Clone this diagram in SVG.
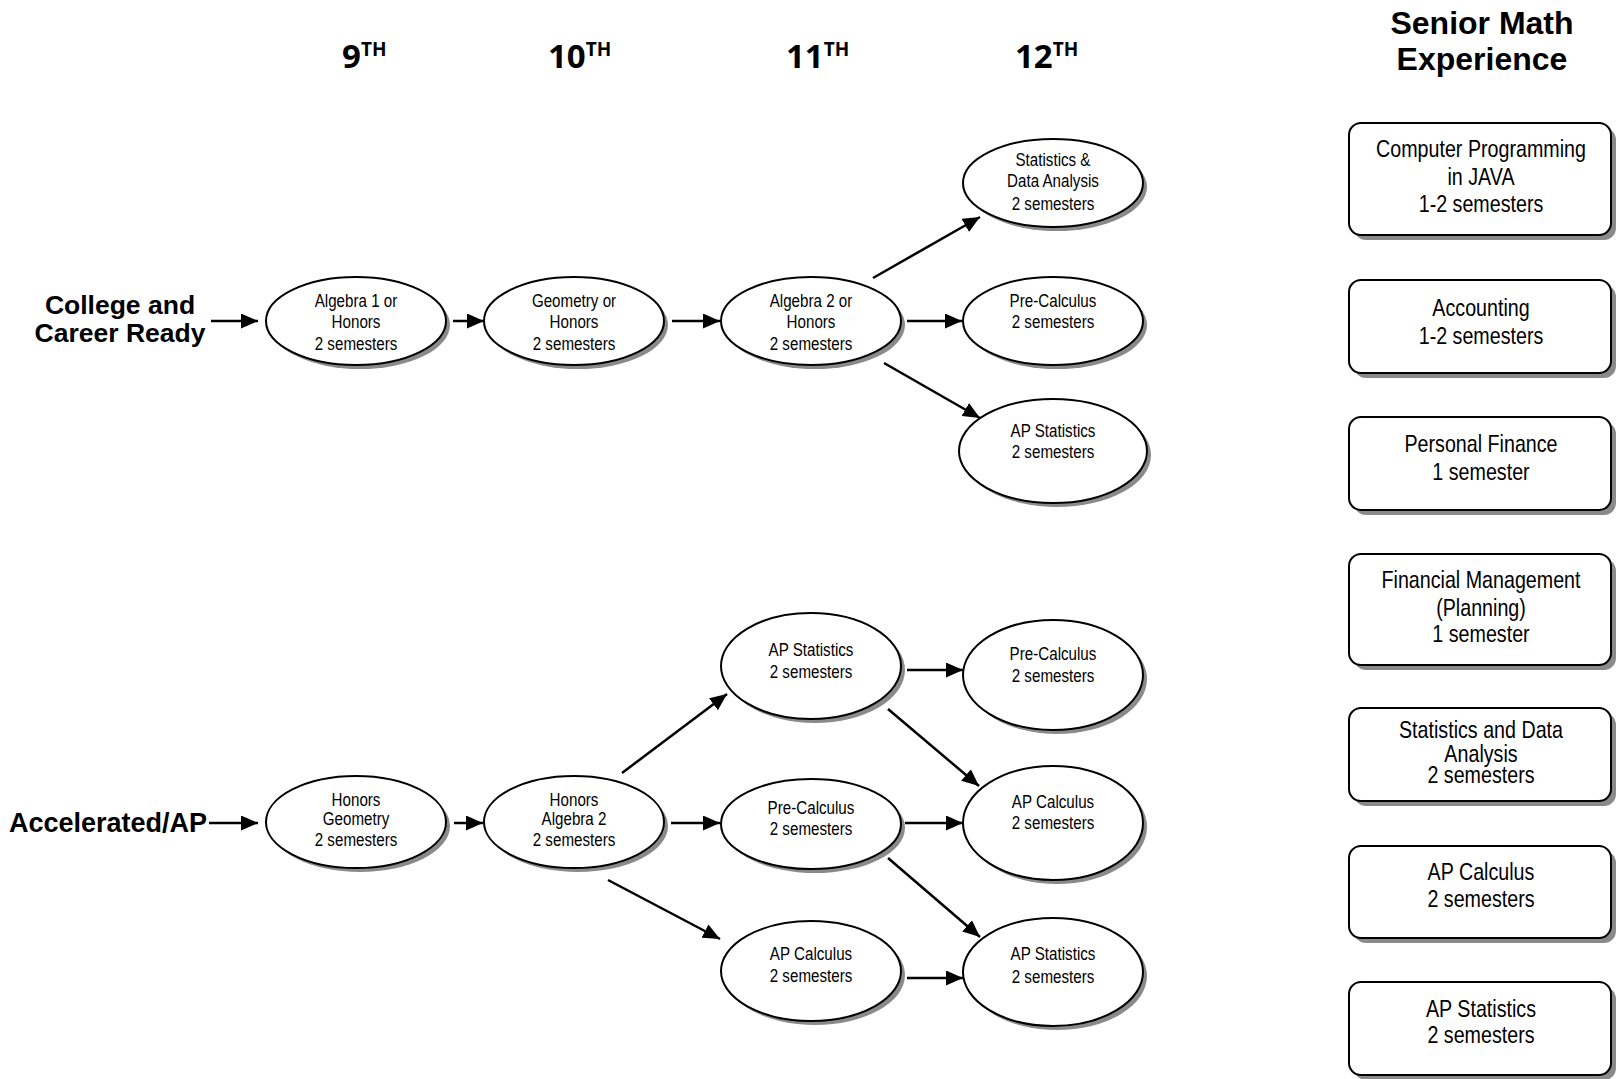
<svg xmlns="http://www.w3.org/2000/svg" width="1617" height="1079" viewBox="0 0 1617 1079">
<defs>
<marker id="ah" markerUnits="userSpaceOnUse" markerWidth="19" markerHeight="15" refX="17" refY="7.5" orient="auto">
<path d="M0,0 L17,7.5 L0,15 Z" fill="#000"/>
</marker>
</defs>
<style>
.sh{fill:#8a8a8a;stroke:none}
.el{fill:#fff;stroke:#000;stroke-width:2}
.bx{fill:#fff;stroke:#000;stroke-width:2}
.t{font-family:"Liberation Sans",Arial,sans-serif;font-size:18.5px;text-anchor:middle;fill:#000}
.bt{font-family:"Liberation Sans",Arial,sans-serif;font-size:24px;text-anchor:middle;fill:#000}
.hd{font-family:"Open Sans","Liberation Sans",sans-serif;font-weight:700;font-size:33px;fill:#000}
.sup{font-size:19px}
.lb{font-family:"Liberation Sans",Arial,sans-serif;font-weight:700;font-size:26.5px;fill:#000}
.cn{stroke:#000;stroke-width:2.5;fill:none;marker-end:url(#ah)}
</style>
<rect width="1617" height="1079" fill="#fff"/>

<g id="headers">
<text class="hd" x="342" y="68">9<tspan class="sup" dy="-12">TH</tspan></text>
<text class="hd" x="548" y="68">10<tspan class="sup" dy="-12">TH</tspan></text>
<text class="hd" x="786" y="68">11<tspan class="sup" dy="-12">TH</tspan></text>
<text class="hd" x="1015" y="68">12<tspan class="sup" dy="-12">TH</tspan></text>
<text class="lb" x="1482" y="34" text-anchor="middle" style="font-size:32px">Senior Math</text>
<text class="lb" x="1482" y="70" text-anchor="middle" style="font-size:32px">Experience</text>
</g>

<g id="label-ccr">
<text class="lb" x="120" y="314" text-anchor="middle">College and</text>
<text class="lb" x="120" y="342" text-anchor="middle">Career Ready</text>
</g>
<g id="label-ap">
<text class="lb" x="207" y="832" text-anchor="end" style="font-size:27px">Accelerated/AP</text>
</g>

<g id="connectors">
<path class="cn" d="M211,321 L258,321"/>
<path class="cn" d="M453,321 L484,321"/>
<path class="cn" d="M672,321 L720,321"/>
<path class="cn" d="M907,321 L962,321"/>
<path class="cn" d="M873,278 L980,217"/>
<path class="cn" d="M884,363 L980,418"/>
<path class="cn" d="M209,823 L258,823"/>
<path class="cn" d="M454,823 L483,823"/>
<path class="cn" d="M671,823 L720,823"/>
<path class="cn" d="M622,773 L727,694"/>
<path class="cn" d="M608,880 L720,939"/>
<path class="cn" d="M907,670 L963,670"/>
<path class="cn" d="M888,709 L979,786"/>
<path class="cn" d="M905,823 L963,823"/>
<path class="cn" d="M888,858 L980,937"/>
<path class="cn" d="M907,978 L963,978"/>
</g>

<g id="n-alg1">
<ellipse class="sh" cx="360" cy="325" rx="90" ry="44"/>
<ellipse class="el" cx="356" cy="321" rx="90" ry="44"/>
<g transform="translate(356 0) scale(0.82 1)">
<text class="t" x="0" y="307.5">Algebra 1 or</text>
<text class="t" x="0" y="328">Honors</text>
<text class="t" x="0" y="350">2 semesters</text>
</g>
</g>
<g id="n-geo">
<ellipse class="sh" cx="578" cy="325" rx="90" ry="44"/>
<ellipse class="el" cx="574" cy="321" rx="90" ry="44"/>
<g transform="translate(574 0) scale(0.82 1)">
<text class="t" x="0" y="307.5">Geometry or</text>
<text class="t" x="0" y="328">Honors</text>
<text class="t" x="0" y="350">2 semesters</text>
</g>
</g>
<g id="n-alg2">
<ellipse class="sh" cx="815" cy="325" rx="90" ry="44"/>
<ellipse class="el" cx="811" cy="321" rx="90" ry="44"/>
<g transform="translate(811 0) scale(0.82 1)">
<text class="t" x="0" y="307.5">Algebra 2 or</text>
<text class="t" x="0" y="328">Honors</text>
<text class="t" x="0" y="350">2 semesters</text>
</g>
</g>
<g id="n-sda">
<ellipse class="sh" cx="1057" cy="187" rx="90" ry="44"/>
<ellipse class="el" cx="1053" cy="183" rx="90" ry="44"/>
<g transform="translate(1053 0) scale(0.82 1)">
<text class="t" x="0" y="166">Statistics &amp;</text>
<text class="t" x="0" y="187">Data Analysis</text>
<text class="t" x="0" y="210">2 semesters</text>
</g>
</g>
<g id="n-pc1">
<ellipse class="sh" cx="1057" cy="325" rx="90" ry="44"/>
<ellipse class="el" cx="1053" cy="321" rx="90" ry="44"/>
<g transform="translate(1053 0) scale(0.82 1)">
<text class="t" x="0" y="307.5">Pre-Calculus</text>
<text class="t" x="0" y="328">2 semesters</text>
</g>
</g>
<g id="n-aps1">
<ellipse class="sh" cx="1057" cy="455" rx="94" ry="52"/>
<ellipse class="el" cx="1053" cy="451" rx="94" ry="52"/>
<g transform="translate(1053 0) scale(0.82 1)">
<text class="t" x="0" y="437.5">AP Statistics</text>
<text class="t" x="0" y="458">2 semesters</text>
</g>
</g>

<g id="n-hgeo">
<ellipse class="sh" cx="360" cy="826" rx="90" ry="46"/>
<ellipse class="el" cx="356" cy="822" rx="90" ry="46"/>
<g transform="translate(356 0) scale(0.82 1)">
<text class="t" x="0" y="806.5">Honors</text>
<text class="t" x="0" y="825">Geometry</text>
<text class="t" x="0" y="846">2 semesters</text>
</g>
</g>
<g id="n-halg2">
<ellipse class="sh" cx="578" cy="826" rx="90" ry="46"/>
<ellipse class="el" cx="574" cy="822" rx="90" ry="46"/>
<g transform="translate(574 0) scale(0.82 1)">
<text class="t" x="0" y="806.5">Honors</text>
<text class="t" x="0" y="825">Algebra 2</text>
<text class="t" x="0" y="846">2 semesters</text>
</g>
</g>
<g id="n-aps11">
<ellipse class="sh" cx="815" cy="670" rx="90" ry="53"/>
<ellipse class="el" cx="811" cy="666" rx="90" ry="53"/>
<g transform="translate(811 0) scale(0.82 1)">
<text class="t" x="0" y="656">AP Statistics</text>
<text class="t" x="0" y="678">2 semesters</text>
</g>
</g>
<g id="n-pc11">
<ellipse class="sh" cx="815" cy="828" rx="90" ry="45"/>
<ellipse class="el" cx="811" cy="824" rx="90" ry="45"/>
<g transform="translate(811 0) scale(0.82 1)">
<text class="t" x="0" y="814">Pre-Calculus</text>
<text class="t" x="0" y="835.5">2 semesters</text>
</g>
</g>
<g id="n-apc11">
<ellipse class="sh" cx="815" cy="975" rx="90" ry="50"/>
<ellipse class="el" cx="811" cy="971" rx="90" ry="50"/>
<g transform="translate(811 0) scale(0.82 1)">
<text class="t" x="0" y="960.5">AP Calculus</text>
<text class="t" x="0" y="982">2 semesters</text>
</g>
</g>
<g id="n-pc12">
<ellipse class="sh" cx="1057" cy="679" rx="90" ry="55"/>
<ellipse class="el" cx="1053" cy="675" rx="90" ry="55"/>
<g transform="translate(1053 0) scale(0.82 1)">
<text class="t" x="0" y="660">Pre-Calculus</text>
<text class="t" x="0" y="682">2 semesters</text>
</g>
</g>
<g id="n-apc12">
<ellipse class="sh" cx="1057" cy="827" rx="90" ry="57"/>
<ellipse class="el" cx="1053" cy="823" rx="90" ry="57"/>
<g transform="translate(1053 0) scale(0.82 1)">
<text class="t" x="0" y="808">AP Calculus</text>
<text class="t" x="0" y="829.5">2 semesters</text>
</g>
</g>
<g id="n-aps12">
<ellipse class="sh" cx="1057" cy="976" rx="90" ry="54"/>
<ellipse class="el" cx="1053" cy="972" rx="90" ry="54"/>
<g transform="translate(1053 0) scale(0.82 1)">
<text class="t" x="0" y="960.5">AP Statistics</text>
<text class="t" x="0" y="983">2 semesters</text>
</g>
</g>

<g id="b-java">
<rect class="sh" x="1354" y="128" width="262" height="112" rx="12"/>
<rect class="bx" x="1349" y="123" width="262" height="112" rx="12"/>
<g transform="translate(1481 0) scale(0.82 1)">
<text class="bt" x="0" y="157.5">Computer Programming</text>
<text class="bt" x="0" y="185.5">in JAVA</text>
<text class="bt" x="0" y="212">1-2 semesters</text>
</g>
</g>
<g id="b-acct">
<rect class="sh" x="1354" y="285" width="262" height="93" rx="12"/>
<rect class="bx" x="1349" y="280" width="262" height="93" rx="12"/>
<g transform="translate(1481 0) scale(0.82 1)">
<text class="bt" x="0" y="316">Accounting</text>
<text class="bt" x="0" y="344">1-2 semesters</text>
</g>
</g>
<g id="b-pf">
<rect class="sh" x="1354" y="422" width="262" height="93" rx="12"/>
<rect class="bx" x="1349" y="417" width="262" height="93" rx="12"/>
<g transform="translate(1481 0) scale(0.82 1)">
<text class="bt" x="0" y="452.5">Personal Finance</text>
<text class="bt" x="0" y="480">1 semester</text>
</g>
</g>
<g id="b-fm">
<rect class="sh" x="1354" y="559" width="262" height="111" rx="12"/>
<rect class="bx" x="1349" y="554" width="262" height="111" rx="12"/>
<g transform="translate(1481 0) scale(0.82 1)">
<text class="bt" x="0" y="588.5">Financial Management</text>
<text class="bt" x="0" y="616">(Planning)</text>
<text class="bt" x="0" y="642">1 semester</text>
</g>
</g>
<g id="b-sda">
<rect class="sh" x="1354" y="713" width="262" height="93" rx="12"/>
<rect class="bx" x="1349" y="708" width="262" height="93" rx="12"/>
<g transform="translate(1481 0) scale(0.82 1)">
<text class="bt" x="0" y="738.5">Statistics and Data</text>
<text class="bt" x="0" y="762">Analysis</text>
<text class="bt" x="0" y="783">2 semesters</text>
</g>
</g>
<g id="b-apc">
<rect class="sh" x="1354" y="851" width="262" height="92" rx="12"/>
<rect class="bx" x="1349" y="846" width="262" height="92" rx="12"/>
<g transform="translate(1481 0) scale(0.82 1)">
<text class="bt" x="0" y="880">AP Calculus</text>
<text class="bt" x="0" y="907">2 semesters</text>
</g>
</g>
<g id="b-aps">
<rect class="sh" x="1354" y="987" width="262" height="93" rx="12"/>
<rect class="bx" x="1349" y="982" width="262" height="93" rx="12"/>
<g transform="translate(1481 0) scale(0.82 1)">
<text class="bt" x="0" y="1017.5">AP Statistics</text>
<text class="bt" x="0" y="1043">2 semesters</text>
</g>
</g>
</svg>
